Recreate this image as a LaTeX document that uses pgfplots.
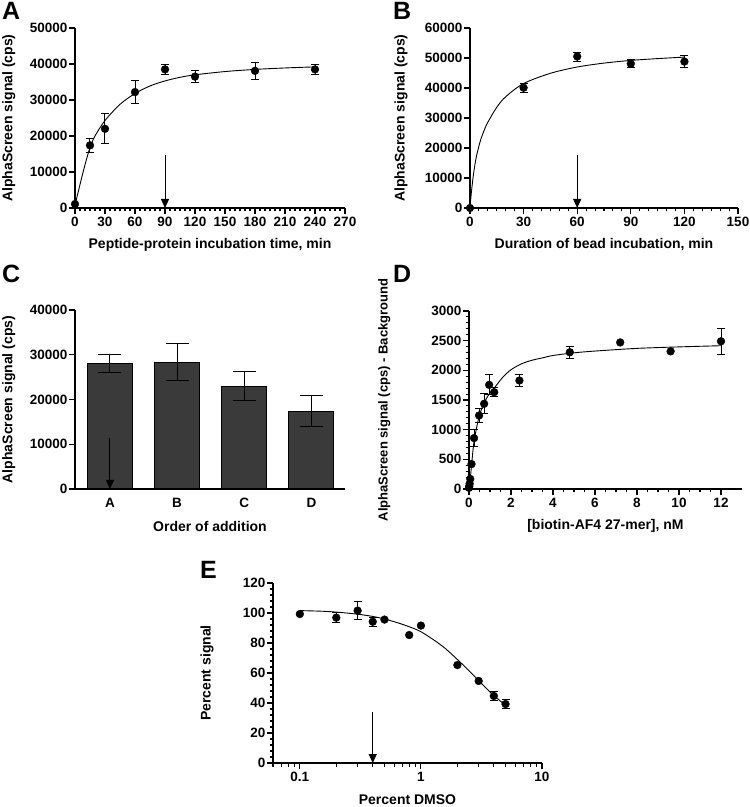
\documentclass[border=0pt]{standalone}
\usepackage{fontspec}
\setmainfont{Liberation Sans}
\usepackage{pgfplots}
\pgfplotsset{compat=1.18}
\usetikzlibrary{arrows.meta}
\definecolor{barcol}{HTML}{3A3A3A}
\newcommand\labfont{\fontsize{14}{16}\selectfont\bfseries}
\tikzset{
 arr/.style={-{Triangle[width=8pt,length=9pt]}, line width=1pt},
 panel/.style={font=\fontsize{25}{25}\selectfont\bfseries, anchor=north west, inner sep=0pt},
}
\pgfplotsset{
 ylab/.style={every axis y label/.style={at={(axis description cs:#1,0.5)}, rotate=90, anchor=center, font=\labfont}},
 xlab/.style={every axis x label/.style={at={(axis description cs:0.5,#1)}, anchor=center, font=\labfont}},
 myax/.style={
  scale only axis,
  axis lines=left,
  axis line style={-, line width=1.3pt},
  tick align=outside,
  major tick length=6pt,
  minor tick length=3.5pt,
  every tick/.style={black, line width=1.1pt},
  tick label style={font=\fontsize{13.5}{15}\selectfont\bfseries},
  yticklabel style={inner sep=1.5pt},
  /pgf/number format/assume math mode=true,
  /pgf/number format/1000 sep={},
  scaled ticks=false,
  clip=false,
  ylab=-0.245, xlab=-0.205,
 },
 dots/.style={black, only marks, mark=*, mark size=3.9pt,
   error bars/.cd, y dir=both, y explicit,
   error bar style={line width=1pt},
   error mark options={rotate=90, mark size=4pt, line width=1pt}},
 dotsne/.style={black, only marks, mark=*, mark size=3.9pt},
 fitline/.style={black, line width=0.9pt, no marks, smooth},
}
\begin{document}
\begin{tikzpicture}[x=1pt,y=1pt]
\useasboundingbox (0,0) rectangle (750,807);
% Panel letters
\node[panel] at (2,805) {A};
\node[panel] at (393,805) {B};
\node[panel] at (2,542) {C};
\node[panel] at (393,542) {D};
\node[panel] at (200,246) {E};

% ---------- A ----------
\begin{axis}[myax, at={(75pt,599pt)}, anchor=south west,
  width=270pt, height=180pt,
  xmin=0, xmax=270, ymin=0, ymax=50000,
  xtick={0,30,...,270}, minor x tick num=5,
  ytick={0,10000,...,50000},
  xlabel={Peptide-protein incubation time, min},
  ylabel={AlphaScreen signal (cps)}]
\addplot[fitline] coordinates {(0,800) (5,6500) (10,12000) (15,16800) (20,20000) (30,24300) (45,28800) (60,31800) (75,33900) (90,35300) (105,36300) (120,37000) (150,37900) (180,38500) (210,38900) (240,39200)};
\addplot[dotsne] coordinates {(0,1100)};
\addplot[dots] coordinates {
 (15,17400) +- (0,2000)
 (30,22000) +- (0,4200)
 (60,32200) +- (0,3150)
 (90,38500) +- (0,1400)
 (120,36500) +- (0,1750)
 (180,38100) +- (0,2300)
 (240,38500) +- (0,1400)};
\draw[arr] (axis cs:90,14800) -- (axis cs:90,0);
\end{axis}

% ---------- B ----------
\begin{axis}[myax, at={(470pt,599pt)}, anchor=south west,
  width=268pt, height=180pt,
  xmin=0, xmax=150, ymin=0, ymax=60000,
  xtick={0,30,...,150}, minor x tick num=5,
  ytick={0,10000,...,60000},
  ylab=-0.257,
  xlabel={Duration of bead incubation, min},
  ylabel={AlphaScreen signal (cps)}]
\addplot[fitline] coordinates {(0,0) (0.5,3500) (1,6500) (2,11500) (3,15300) (4,18300) (6,22800) (8,26000) (10,28600) (15,33600) (20,37100) (30,41500) (45,44900) (60,47000) (75,48300) (90,49200) (105,49800) (120,50300)};
\addplot[dotsne] coordinates {(0,0)};
\addplot[dots] coordinates {
 (30,40100) +- (0,1450)
 (60,50500) +- (0,1500)
 (90,48100) +- (0,1400)
 (120,48800) +- (0,2100)};
\draw[arr] (axis cs:60,17800) -- (axis cs:60,0);
\end{axis}

% ---------- C ----------
\begin{axis}[myax, at={(75pt,318pt)}, anchor=south west,
  width=270pt, height=179pt,
  xmin=-0.52, xmax=3.5, ymin=0, ymax=40000,
  xtick={0,1,2,3}, xticklabels={A,B,C,D},
  xtick style={draw=none},
  ytick={0,10000,...,40000},
  xlab=-0.207,
  xlabel={Order of addition},
  ylabel={AlphaScreen signal (cps)}]
\addplot[ybar, bar width=45pt, fill=barcol, draw=black, line width=1pt,
  error bars/.cd, y dir=both, y explicit,
  error bar style={line width=1pt},
  error mark options={rotate=90, mark size=11.5pt, line width=1pt}]
 coordinates {(0,28000) +- (0,2000) (1,28300) +- (0,4150) (2,23000) +- (0,3150) (3,17400) +- (0,3500)};
\draw[arr] (axis cs:0,11500) -- (axis cs:0,0);
\end{axis}

% ---------- D ----------
\begin{axis}[myax, at={(469pt,318pt)}, anchor=south west,
  width=273pt, height=178pt,
  xmin=0, xmax=13, ymin=0, ymax=3000,
  xtick={0,2,...,12}, minor x tick num=3,
  ytick={0,500,...,3000}, minor y tick num=4,
  ylab=-0.31, xlab=-0.208,
  every axis y label/.append style={font=\fontsize{13}{15}\selectfont\bfseries},
  xlabel={[biotin-AF4 27-mer], nM},
  ylabel={AlphaScreen signal (cps) - Background}]
\addplot[fitline] coordinates {(0,0) (0.06,180) (0.12,390) (0.24,800) (0.48,1220) (0.72,1450) (0.96,1600) (1.2,1700) (1.6,1880) (2,2010) (2.5,2110) (3,2170) (3.5,2210) (4,2250) (5,2295) (6,2325) (8,2370) (10,2395) (12,2415)};
\addplot[dotsne] coordinates {(0,20) (0.015,50) (0.03,90) (0.06,170) (0.12,420) (7.2,2470) (9.6,2320)};
\addplot[dots] coordinates {
 (0.24,858) +- (0,140)
 (0.48,1239) +- (0,110)
 (0.72,1436) +- (0,170)
 (0.96,1755) +- (0,170)
 (1.2,1632) +- (0,80)
 (2.4,1828) +- (0,105)
 (4.8,2305) +- (0,105)
 (12,2490) +- (0,220)};
\end{axis}

% ---------- E ----------
\begin{axis}[myax, at={(273pt,44pt)}, anchor=south west,
  width=269pt, height=180pt,
  xmode=log, xmin=0.06, xmax=10, ymin=0, ymax=120,
  xtick={0.1,1,10}, xticklabels={0.1,1,10},
  minor xtick={0.06,0.07,0.08,0.09,0.2,0.3,0.4,0.5,0.6,0.7,0.8,0.9,2,3,4,5,6,7,8,9},
  ytick={0,20,...,120}, minor y tick num=4,
  xlab=-0.206,
  xlabel={Percent DMSO},
  ylabel={Percent signal}]
\addplot[fitline] coordinates {(0.1,101.6) (0.15,101.2) (0.2,100.6) (0.3,99.2) (0.4,97.7) (0.5,96) (0.7,92.5) (1,87.5) (1.5,78) (2,69) (2.5,61.5) (3,55) (3.5,49.5) (4,45) (4.5,41.5) (5,38.5)};
\addplot[dotsne] coordinates {(0.1,99.3) (0.5,95.6) (0.8,85.3) (1,91.6) (2,65.3) (3,54.7)};
\addplot[dots] coordinates {
 (0.2,96.9) +- (0,3.3)
 (0.3,101.6) +- (0,6.1)
 (0.4,94.2) +- (0,3)
 (4,44.7) +- (0,2.8)
 (5,39.3) +- (0,3.2)};
\draw[arr] (axis cs:0.4,34) -- (axis cs:0.4,0);
\end{axis}
\end{tikzpicture}
\end{document}
